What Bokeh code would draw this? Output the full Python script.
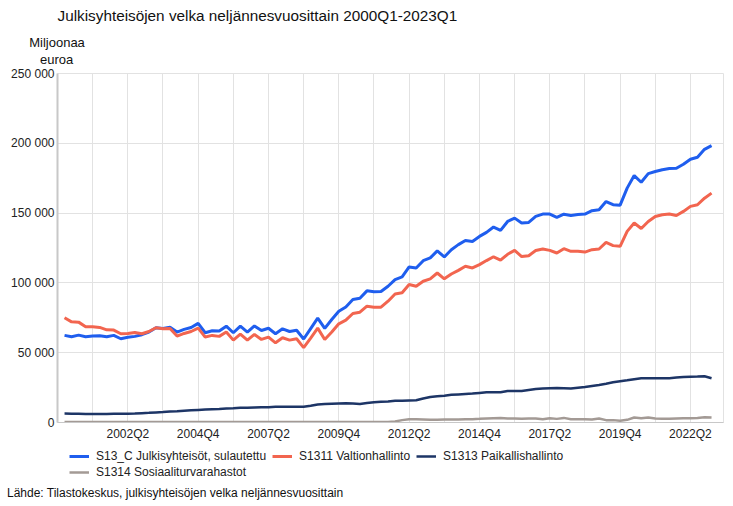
from bokeh.plotting import figure
from bokeh.layouts import column
from bokeh.models import (ColumnDataSource, FixedTicker, Range1d, Legend, LegendItem,
                          Title, Label)
from bokeh.embed import file_html
from bokeh.resources import INLINE

# Quarters 2000Q1 .. 2023Q1
quarters = [f"{y}Q{q}" for y in range(2000, 2024) for q in range(1, 5)][:93]

# Values in thousand million euro (x1000 = million euro)
s13_c = [62.4, 61.4, 62.6, 61.4, 61.9, 62.1, 61.4, 62.4, 60.0, 61.0,
         61.7, 62.9, 64.8, 67.9, 67.4, 68.3, 64.8, 66.7, 68.1, 71.0,
         64.3, 65.7, 65.5, 69.0, 64.3, 69.0, 64.8, 69.2, 65.9, 67.5,
         63.6, 67.1, 65.2, 66.1, 59.8, 67.3, 74.8, 67.4, 73.8, 79.7,
         82.8, 88.1, 89.0, 94.3, 93.6, 93.8, 97.6, 102.4, 104.3, 111.4,
         110.7, 115.9, 117.9, 122.9, 118.6, 123.8, 127.4, 130.4, 129.7, 133.3,
         136.2, 140.0, 137.6, 144.0, 146.4, 142.9, 143.3, 147.6, 149.3, 149.3,
         146.9, 149.2, 148.3, 149.0, 149.3, 151.7, 152.4, 158.3, 156.0, 155.7,
         167.9, 176.9, 172.1, 178.3, 179.8, 181.0, 181.9, 182.1, 185.0, 188.6,
         190.0, 195.7, 198.3]
s1311 = [75.0, 72.1, 71.9, 68.6, 68.6, 68.1, 66.4, 66.2, 63.6, 63.8,
         64.5, 63.6, 65.2, 67.9, 67.1, 67.4, 61.9, 63.8, 65.2, 67.6,
         61.2, 62.4, 61.7, 64.8, 59.0, 63.3, 59.0, 63.1, 59.5, 61.2,
         57.1, 60.7, 59.0, 60.0, 53.6, 60.5, 67.6, 59.5, 64.8, 70.7,
         73.3, 78.1, 79.0, 83.3, 82.6, 82.6, 86.9, 92.1, 92.9, 98.8,
         97.6, 101.2, 102.9, 107.1, 102.9, 106.4, 109.0, 111.9, 110.7, 113.1,
         116.0, 118.7, 116.3, 120.5, 123.3, 118.9, 119.5, 123.2, 124.3, 123.3,
         121.4, 124.5, 122.6, 122.6, 122.1, 123.8, 124.3, 129.0, 126.7, 126.2,
         136.9, 142.9, 139.0, 144.0, 147.6, 148.8, 149.3, 148.3, 151.2, 154.8,
         156.0, 160.7, 164.3]
s1313 = [6.4, 6.3, 6.2, 6.1, 6.0, 6.1, 6.1, 6.2, 6.2, 6.3,
         6.4, 6.7, 6.9, 7.2, 7.5, 7.9, 8.1, 8.4, 8.7, 9.0,
         9.3, 9.5, 9.7, 10.0, 10.2, 10.5, 10.6, 10.8, 10.9, 11.0,
         11.2, 11.2, 11.2, 11.2, 11.3, 12.0, 12.9, 13.2, 13.4, 13.6,
         13.8, 13.6, 13.3, 14.0, 14.5, 14.8, 15.0, 15.5, 15.6, 15.8,
         16.0, 17.2, 18.3, 18.8, 19.2, 19.8, 20.1, 20.4, 20.7, 21.2,
         21.7, 21.7, 21.7, 22.6, 22.6, 22.6, 23.3, 24.0, 24.4, 24.6,
         24.8, 24.6, 24.3, 24.9, 25.5, 26.2, 26.9, 27.8, 28.8, 29.5,
         30.2, 31.0, 31.7, 31.7, 31.7, 31.7, 31.7, 32.2, 32.6, 32.8,
         32.9, 33.1, 31.7]
s1314 = [0.3, 0.3, 0.3, 0.3, 0.3, 0.3, 0.3, 0.3, 0.3, 0.3,
         0.3, 0.3, 0.3, 0.3, 0.3, 0.3, 0.3, 0.3, 0.3, 0.3,
         0.3, 0.3, 0.3, 0.3, 0.3, 0.3, 0.3, 0.3, 0.3, 0.3,
         0.3, 0.3, 0.3, 0.3, 0.3, 0.3, 0.3, 0.3, 0.3, 0.3,
         0.3, 0.3, 0.3, 0.3, 0.3, 0.3, 0.3, 0.7, 1.7, 2.4,
         2.4, 2.2, 1.9, 2.0, 2.1, 2.1, 2.2, 2.3, 2.4, 2.6,
         2.9, 3.1, 3.3, 2.9, 2.8, 2.6, 2.8, 2.9, 2.4, 3.1,
         2.6, 3.3, 2.4, 2.4, 2.4, 2.1, 2.9, 1.7, 1.7, 1.2,
         1.9, 3.6, 3.1, 3.6, 2.9, 2.6, 2.6, 2.9, 3.1, 3.1,
         3.3, 3.8, 3.6]

series_names = ["S13_C Julkisyhteisöt, sulautettu", "S1311 Valtionhallinto",
                "S1313 Paikallishallinto", "S1314 Sosiaaliturvarahastot"]
x_tick_labels = ["2002Q2", "2004Q4", "2007Q2", "2009Q4", "2012Q2",
                 "2014Q4", "2017Q2", "2019Q4", "2022Q2"]
y_ticks = [0, 50000, 100000, 150000, 200000, 250000]
y_tick_labels = ["0", "50 000", "100 000", "150 000", "200 000", "250 000"]

FONT = "Liberation Sans"
colors = ["#1f5eee", "#f2654f", "#1d3566", "#a39a95"]
widths = [3, 3, 2.5, 2.5]

src = ColumnDataSource(dict(
    x=list(range(len(quarters))),
    q=quarters,
    a=[v * 1000 for v in s13_c],
    b=[v * 1000 for v in s1311],
    c=[v * 1000 for v in s1313],
    d=[v * 1000 for v in s1314],
))

# ---------------- main chart ----------------
p = figure(width=733, height=443, output_backend="svg", toolbar_location=None,
           x_range=Range1d(-1, 93.7), y_range=Range1d(0, 250000),
           min_border_left=57, min_border_right=10, min_border_top=73,
           min_border_bottom=20, frame_align=False)
p.outline_line_color = "#e2e2e2"
p.background_fill_color = "white"
p.border_fill_color = "white"

p.xaxis.ticker = FixedTicker(ticks=[quarters.index(t) for t in x_tick_labels])
p.xaxis.major_label_overrides = {quarters.index(t): t for t in x_tick_labels}
p.yaxis.ticker = FixedTicker(ticks=y_ticks)
p.yaxis.major_label_overrides = {t: l for t, l in zip(y_ticks, y_tick_labels)}
for ax in (p.xaxis[0], p.yaxis[0]):
    ax.major_tick_line_color = None
    ax.minor_tick_line_color = None
    ax.major_tick_out = 0
    ax.major_tick_in = 0
    ax.major_label_text_font = FONT
    ax.major_label_text_font_size = "12px"
    ax.major_label_text_color = "#222222"
p.yaxis.major_label_standoff = 3
p.xaxis.major_label_standoff = 4
p.yaxis.axis_line_color = "#c8c8c8"
p.yaxis.axis_line_width = 2
p.xaxis.axis_line_color = "#c8c8c8"
p.xaxis.axis_line_width = 1

p.xgrid.ticker = FixedTicker(ticks=list(range(-1, 95, 5)))
p.xgrid.grid_line_color = "#e2e2e2"
p.ygrid.grid_line_color = "#e2e2e2"

for col, c, w in zip(["a", "b", "c", "d"], colors, widths):
    p.line("x", col, source=src, line_color=c, line_width=w)

units = Title(text="Miljoonaa\n\u00a0\u00a0\u00a0euroa", align="left", offset=-28.3,
              vertical_align="middle", standoff=11.5, text_font=FONT,
              text_font_size="13px", text_font_style="normal", text_color="#111111",
              text_line_height=1.1)
main_title = Title(text="Julkisyhteisöjen velka neljännesvuosittain 2000Q1-2023Q1",
                   align="left", offset=0, vertical_align="middle", standoff=8,
                   text_font=FONT, text_font_size="15.3px", text_font_style="normal",
                   text_color="#111111")
p.add_layout(units, "above")
p.add_layout(main_title, "above")

# ---------------- legend + source strip ----------------
H2 = 63
q = figure(width=733, height=H2, output_backend="svg", toolbar_location=None,
           x_range=Range1d(0, 733), y_range=Range1d(H2, 0),
           x_axis_type=None, y_axis_type=None,
           min_border_left=0, min_border_right=0, min_border_top=0, min_border_bottom=0,
           frame_align=False)
q.outline_line_color = None
q.xgrid.visible = False
q.ygrid.visible = False
q.background_fill_color = "white"
q.border_fill_color = "white"

# legend keys: lines styled like the series, placed outside the visible range
keys = [q.line(x=[-50, -40], y=[-50, -50], line_color=c, line_width=w)
        for c, w in zip(colors, widths)]

leg_style = dict(orientation="horizontal", glyph_width=20, glyph_height=14,
                 label_height=14, label_standoff=7, spacing=6, padding=0, margin=0,
                 border_line_color=None, background_fill_alpha=0,
                 label_text_font=FONT, label_text_font_size="12px",
                 label_text_color="#222222")
leg1 = Legend(items=[LegendItem(label=series_names[i], renderers=[keys[i]]) for i in range(3)],
              location=(69, 506 - 463.3), **leg_style)
leg2 = Legend(items=[LegendItem(label=series_names[3], renderers=[keys[3]])],
              location=(69, 506 - 479), **leg_style)
q.add_layout(leg1)
q.add_layout(leg2)

q.add_layout(Label(x=6.5, y=492.7 - 443,
                   text="Lähde: Tilastokeskus, julkisyhteisöjen velka neljännesvuosittain",
                   text_font=FONT, text_font_size="12px", text_align="left",
                   text_baseline="middle", text_color="#111111"))

layout = column(p, q, spacing=0)
open("out.html", "w").write(file_html(layout, INLINE))
